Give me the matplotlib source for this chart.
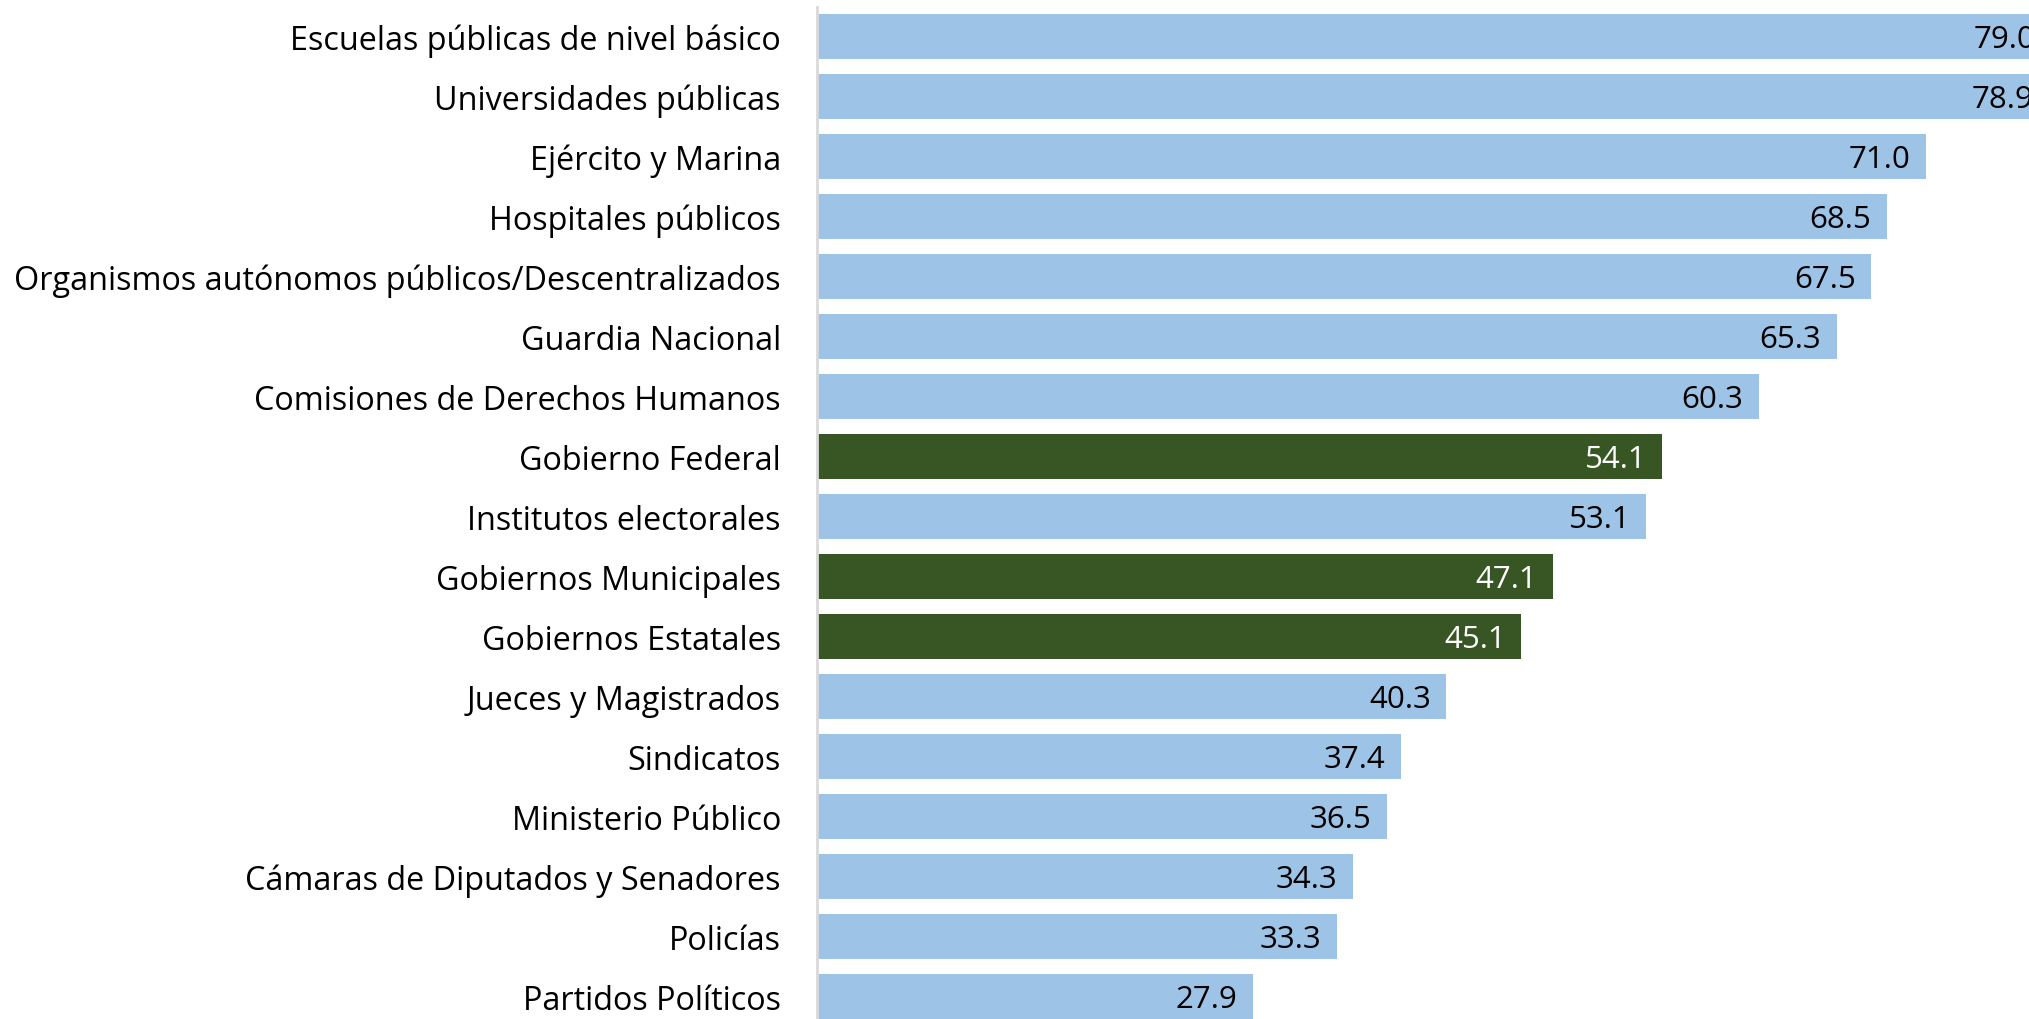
import matplotlib.pyplot as plt

plt.rcParams['font.family'] = ['Open Sans', 'DejaVu Sans']

categorias = [
    'Escuelas públicas de nivel básico',
    'Universidades públicas',
    'Ejército y Marina',
    'Hospitales públicos',
    'Organismos autónomos públicos/Descentralizados',
    'Guardia Nacional',
    'Comisiones de Derechos Humanos',
    'Gobierno Federal',
    'Institutos electorales',
    'Gobiernos Municipales',
    'Gobiernos Estatales',
    'Jueces y Magistrados',
    'Sindicatos',
    'Ministerio Público',
    'Cámaras de Diputados y Senadores',
    'Policías',
    'Partidos Políticos',
]
valores = [79.0, 78.9, 71.0, 68.5, 67.5, 65.3, 60.3, 54.1, 53.1, 47.1,
           45.1, 40.3, 37.4, 36.5, 34.3, 33.3, 27.9]
gobierno = ['Gobierno Federal', 'Gobiernos Municipales', 'Gobiernos Estatales']

azul = '#9DC3E6'
verde = '#375623'

fig = plt.figure(figsize=(20.29, 10.2), dpi=100)
# axes extends past the right edge like the original (top bars are clipped)
x0 = 817 / 2029
ax_w = 80 * 15.62 / 2029
ax = fig.add_axes([x0, -7.5 / 1020, ax_w, 1.0])

pos = list(range(len(categorias)))
colores = [verde if c in gobierno else azul for c in categorias]
ax.barh(pos, valores, height=0.74, color=colores)

for p, v, c in zip(pos, valores, colores):
    ax.text(v - 1.0, p + 0.05, f'{v:.1f}', ha='right', va='center',
            fontsize=22.5, color='white' if c == verde else 'black')

ax.set_xlim(0, 80)
ax.set_ylim(len(categorias) - 0.5, -0.5)
ax.set_yticks(pos)
ax.set_yticklabels(categorias, fontsize=23.3)
ax.tick_params(axis='y', length=0, pad=26)
ax.set_xticks([])
for s in ['top', 'right', 'bottom']:
    ax.spines[s].set_visible(False)
ax.spines['left'].set_color('#D9D9D9')
ax.spines['left'].set_linewidth(2)

fig.savefig('out.png', dpi=100)
